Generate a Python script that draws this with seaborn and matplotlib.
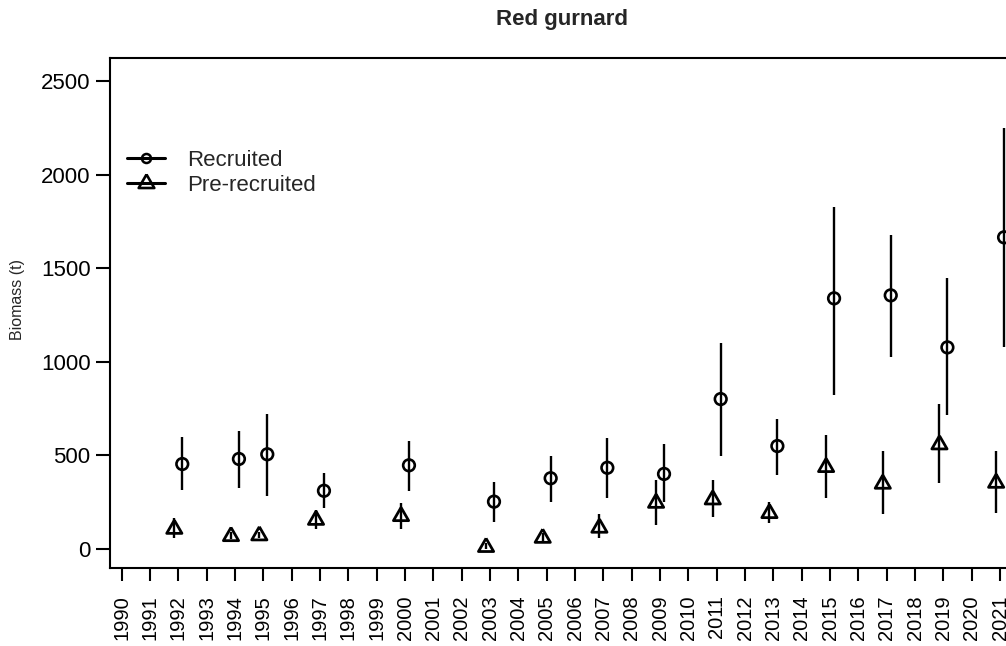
import matplotlib
matplotlib.use("Agg")
import matplotlib.pyplot as plt
from matplotlib.lines import Line2D
import numpy as np
import pandas as pd
import seaborn as sns

# Survey biomass estimates (t) with interval bounds
years = [1992, 1994, 1995, 1997, 2000, 2003, 2005, 2007, 2009, 2011, 2013, 2015, 2017, 2019, 2021]

recruited = [454, 481, 506, 311, 447, 253, 378, 434, 401, 801, 550, 1339, 1355, 1077, 1665]
recruited_lo = [315, 324, 283, 217, 311, 143, 253, 274, 253, 498, 395, 823, 1024, 716, 1077]
recruited_hi = [597, 632, 719, 404, 579, 360, 497, 591, 559, 1099, 693, 1829, 1677, 1446, 2247]

prerecruited = [107, 68, 72, 155, 175, 10, 59, 113, 246, 264, 191, 437, 348, 558, 353]
prerecruited_lo = [60, 55, 58, 107, 107, 0, 30, 57, 128, 169, 137, 271, 185, 351, 190]
prerecruited_hi = [164, 90, 92, 208, 244, 30, 85, 185, 369, 369, 253, 609, 525, 773, 525]

tick_years = list(range(1990, 2022))
y_ticks = [0, 500, 1000, 1500, 2000, 2500]

title = "Red gurnard"
y_label = "Biomass (t)"
series_names = ["Recruited", "Pre-recruited"]

sns.set_theme(style="ticks")
plt.rcParams["font.family"] = ["Liberation Sans", "DejaVu Sans"]

W, H = 1006, 646
fig = plt.figure(figsize=(W / 100, H / 100), dpi=100)
ax = fig.add_axes([110 / W, 1 - 568 / H, 904 / W, 510 / H])

offset = 0.14
rec = pd.DataFrame({"year": np.array(years) + offset, "biomass": recruited,
                    "lo": recruited_lo, "hi": recruited_hi})
pre = pd.DataFrame({"year": np.array(years) - offset, "biomass": prerecruited,
                    "lo": prerecruited_lo, "hi": prerecruited_hi})

# Equilateral open triangle with its centroid at the data point
tri = [(0, 1), (-0.866, -0.5), (0.866, -0.5), (0, 1)]

for df in (rec, pre):
    ax.vlines(df["year"], df["lo"], df["hi"], color="black", lw=1.7, zorder=2)

sns.scatterplot(data=rec, x="year", y="biomass", ax=ax, marker="o", s=70,
                facecolor="none", edgecolor="black", linewidth=1.9, zorder=3,
                legend=False)
sns.scatterplot(data=pre, x="year", y="biomass", ax=ax, marker=tri, s=160,
                facecolor="none", edgecolor="black", linewidth=2.0, zorder=3,
                legend=False)

ax.set_xlim(1989.59, 2021.49)
ax.set_ylim(-101.5, 2623)
ax.set_xticks(tick_years)
ax.set_xticklabels([str(y) for y in tick_years], rotation=90, fontsize=14.5)
ax.set_yticks(y_ticks)
ax.set_yticklabels([str(v) for v in y_ticks], fontsize=16)
ax.set_xlabel("")
ax.set_ylabel("")
ax.tick_params(axis="x", length=9, width=1.5, pad=10.5, colors="black")
ax.tick_params(axis="y", length=10, width=1.5, pad=4, colors="black")
for sp in ax.spines.values():
    sp.set_visible(True)
    sp.set_linewidth(1.5)
    sp.set_color("black")

handles = [
    Line2D([], [], color="black", lw=2.2, marker="o", ms=6.5, mfc="none", mew=1.8),
    Line2D([], [], color="black", lw=2.2, marker=tri, ms=13, mfc="none", mew=1.9),
]
ax.legend(handles, series_names, loc="center left",
          bbox_to_anchor=((127 - 110) / 904, (568 - 173) / 510),
          frameon=False, fontsize=16, handlelength=1.7, handletextpad=1.0,
          labelspacing=0.2, borderpad=0, borderaxespad=0)

fig.text(562 / W, 1 - 20 / H, title, ha="center", va="center",
         fontsize=16, fontweight="bold")
fig.text(18 / W, 1 - 299 / H, y_label, ha="center", va="center",
         rotation=90, fontsize=11.5)

fig.savefig("out.png", dpi=100, facecolor="white")
